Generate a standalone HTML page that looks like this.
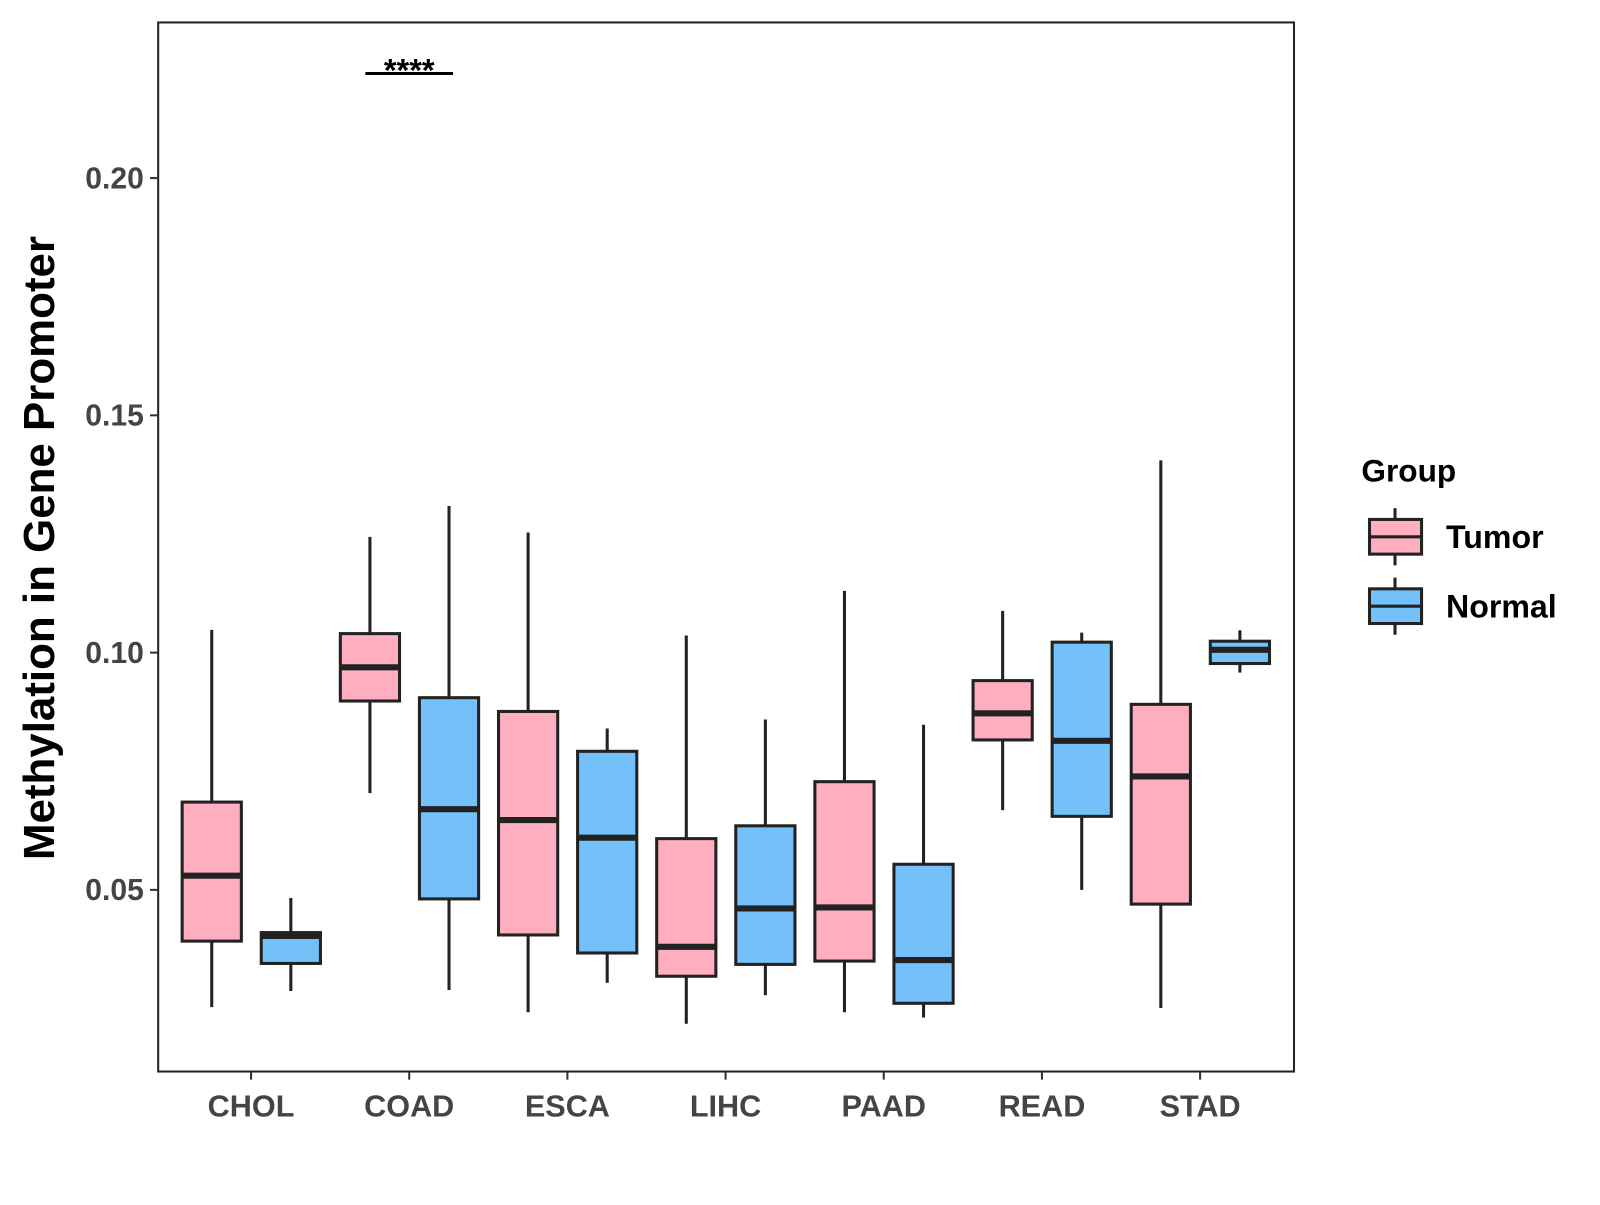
<!DOCTYPE html>
<html><head><meta charset="utf-8"><style>
body{margin:0;background:#fff}
svg text{font-family:"Liberation Sans",sans-serif;font-weight:bold}
</style></head><body>
<svg id="chart" width="1600" height="1200" xmlns="http://www.w3.org/2000/svg">
<rect width="1600" height="1200" fill="#fff"/>
<g id="plot" transform="scale(1.0205)"></g>
</svg>
<script>
const categories=["CHOL","COAD","ESCA","LIHC","PAAD","READ","STAD"];
// [low, q1, median, q3, high]
const tumor=[[0.0253,0.0392,0.053,0.0685,0.1048],[0.0704,0.0898,0.0969,0.104,0.1244],[0.0242,0.0405,0.0647,0.0876,0.1253],[0.0218,0.0318,0.038,0.0608,0.1036],[0.0242,0.035,0.0463,0.0728,0.113],[0.0668,0.0816,0.0872,0.0941,0.1088],[0.0251,0.047,0.0739,0.0891,0.1405]];
const normal=[[0.0287,0.0345,0.0403,0.041,0.0483],[0.0289,0.0481,0.067,0.0905,0.1309],[0.0304,0.0367,0.061,0.0792,0.084],[0.0278,0.0343,0.0461,0.0635,0.0859],[0.0231,0.0261,0.0352,0.0554,0.0848],[0.05,0.0655,0.0814,0.1022,0.1042],[0.0958,0.0977,0.1006,0.1024,0.1047]];
const yTicks=[0.05,0.10,0.15,0.20];
const yTickLabels=["0.05","0.10","0.15","0.20"];
const NS="http://www.w3.org/2000/svg";
const g=document.getElementById('plot');
const L=155,R=1268,T=22,B=1050;
const y=v=>872-(v-0.05)*4650;
const x=i=>246+i*155;
function mk(t,a,p){const e=document.createElementNS(NS,t);for(const k in a)e.setAttribute(k,a[k]);(p||g).appendChild(e);return e;}
let e=mk('rect',{x:L,y:T,width:R-L,height:B-T,fill:'none',stroke:'#222','stroke-width':2});


yTicks.forEach((v,i)=>{
  let t=mk('line',{x1:L-8,x2:L,y1:y(v),y2:y(v),stroke:'#333','stroke-width':2});
  
  
  let l=mk('text',{x:L-14,y:y(v)+10,'text-anchor':'end','font-size':29.5,fill:'#444'});l.textContent=yTickLabels[i];
  
  
});
categories.forEach((c,i)=>{
  let t=mk('line',{x1:x(i),x2:x(i),y1:B,y2:B+8,stroke:'#333','stroke-width':2});
  
  
  let l=mk('text',{x:x(i),y:B+44,'text-anchor':'middle','font-size':30,fill:'#444'});l.textContent=c;
  
  
  [[tumor[i],-38.5,'#FFAEC0','tumor'],[normal[i],39,'#74C1F9','normal']].forEach(([d,off,col,nm])=>{
    const cx=x(i)+off,w=58;
    const bg=mk('g',{});
    
    
    mk('line',{x1:cx,x2:cx,y1:y(d[4]),y2:y(d[0]),stroke:'#222','stroke-width':3},bg);
    mk('rect',{x:cx-w/2,y:y(d[3]),width:w,height:y(d[1])-y(d[3]),fill:col,stroke:'#222','stroke-width':3},bg);
    mk('line',{x1:cx-w/2,x2:cx+w/2,y1:y(d[2]),y2:y(d[2]),stroke:'#222','stroke-width':6},bg);
  });
});
let s=mk('line',{x1:358,x2:444,y1:72,y2:72,stroke:'#000','stroke-width':3});


let st=mk('text',{x:401,y:80,'text-anchor':'middle','font-size':32,fill:'#000'});st.textContent='****';


let yt=mk('text',{transform:'translate(53,537) rotate(-90)','text-anchor':'middle','font-size':43,fill:'#000'});yt.textContent='Methylation in Gene Promoter';


let lt=mk('text',{x:1334,y:472,'font-size':31,fill:'#000'});lt.textContent='Group';


[['Tumor','#FFAEC0',526],['Normal','#74C1F9',594]].forEach(([n,col,cy])=>{
  const lg=mk('g',{});
  
  
  mk('line',{x1:1367,x2:1367,y1:cy-28,y2:cy+28,stroke:'#222','stroke-width':3},lg);
  mk('rect',{x:1342,y:cy-17,width:51,height:34,fill:col,stroke:'#222','stroke-width':3},lg);
  mk('line',{x1:1342,x2:1393,y1:cy,y2:cy,stroke:'#222','stroke-width':3},lg);
  const t=mk('text',{x:1417,y:cy+11,'font-size':31.5,fill:'#000'},lg);t.textContent=n;
});
</script>
</body></html>
